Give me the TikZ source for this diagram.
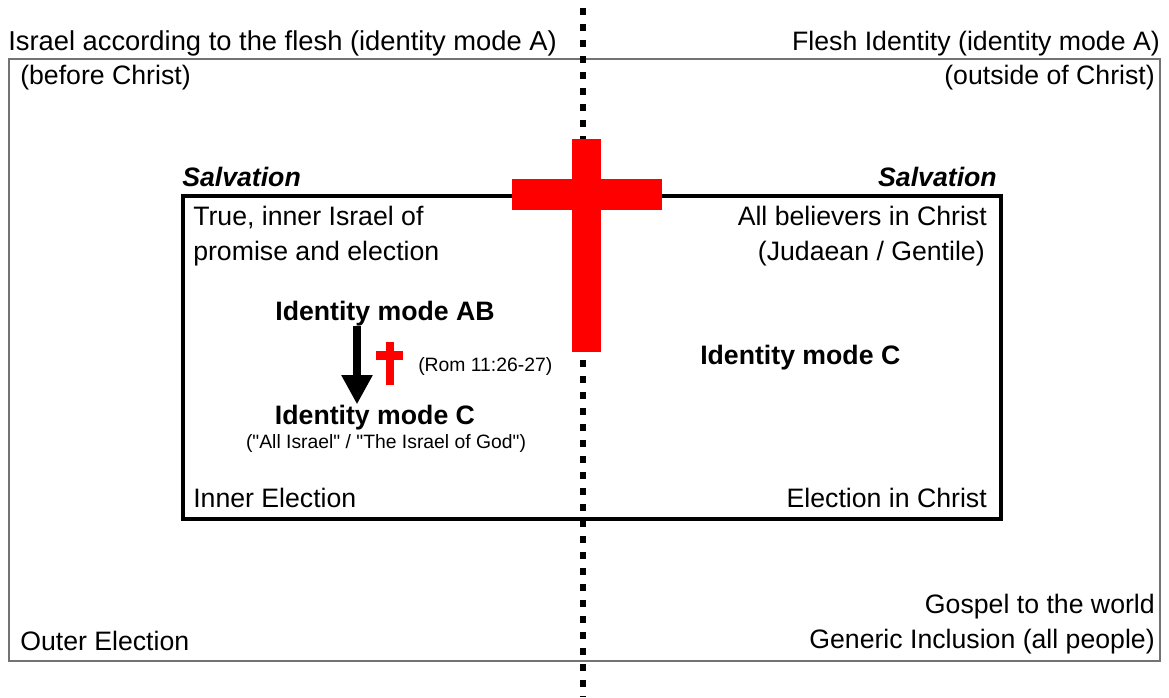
\documentclass[tikz,border=0pt]{standalone}
\usepackage{fontspec}
\setmainfont{Liberation Sans}
\usetikzlibrary{arrows.meta}
\definecolor{crossred}{RGB}{255,0,0}
\newcommand{\redcross}[2]{
  \fill[crossred] #1;
  \fill[crossred] #2;
}
\tikzset{
  lbl/.style={inner sep=0pt, font=\fontsize{20}{24}\selectfont},
  boldlbl/.style={lbl, font=\fontsize{20}{24}\selectfont\bfseries},
  smalllbl/.style={inner sep=0pt, font=\fontsize{14.5}{17}\selectfont},
  outerframe/.style={draw=black!55, line width=2.2pt},
  innerframe/.style={draw=black, line width=3pt},
  divider/.style={draw=black, line width=5pt, dash pattern=on 5.5pt off 6.5pt, dash phase=-6pt},
  bigarrow/.style={line width=6.5pt, -{Triangle[width=22pt,length=22pt]}}
}

\begin{document}
\begin{tikzpicture}[x=0.75pt,y=-0.75pt]
  \useasboundingbox (0,0) rectangle (1169,697);
  % frames
  \draw[outerframe] (9,59) rectangle (1160,661);
  \draw[innerframe] (183,196) rectangle (1001,519);
  \draw[divider] (583,0) -- (583,697);
  % the cross
  \redcross{(572,139) rectangle (601,352)}{(512,179) rectangle (662,210)}
  \redcross{(386,342) rectangle (394,385)}{(376,351) rectangle (403,360)}
  % outer labels
  \node[lbl, anchor=base west, font=\fontsize{20.5}{24}\selectfont] (israelA) at (8,50) {Israel according to the flesh (identity mode A)};
  \node[lbl, anchor=base west] (before) at (20,84) {(before Christ)};
  \node[lbl, anchor=base east] (fleshA) at (1160,50) {Flesh Identity (identity mode A)};
  \node[lbl, anchor=base east] (outside) at (1155,84) {(outside of Christ)};
  \node[lbl, anchor=base west] (outer) at (20,650) {Outer Election};
  \node[lbl, anchor=base east] (gospel) at (1155,613) {Gospel to the world};
  \node[lbl, anchor=base east] (generic) at (1155,648) {Generic Inclusion (all people)};
  % salvation box
  \node[boldlbl, anchor=base west, font=\fontsize{20}{24}\selectfont\bfseries\itshape] (salvL) at (182,186) {Salvation};
  \node[boldlbl, anchor=base east, font=\fontsize{20}{24}\selectfont\bfseries\itshape] (salvR) at (997,186) {Salvation};
  \node[lbl, anchor=base west] (trueA) at (193,225) {True, inner Israel of};
  \node[lbl, anchor=base west] (trueB) at (193,260) {promise and election};
  \node[lbl, anchor=base east] (allA) at (987,225) {All believers in Christ};
  \node[lbl, anchor=base east] (allB) at (985,260) {(Judaean / Gentile)};
  \node[boldlbl, anchor=base] (modeAB) at (385,320) {Identity mode AB};
  \node[boldlbl, anchor=base] (modeC) at (375,424) {Identity mode C};
  \node[smalllbl, anchor=base] (allisrael) at (386,448) {(\textquotedbl All Israel\textquotedbl{} / \textquotedbl The Israel of God\textquotedbl)};
  \node[smalllbl, anchor=west] (rom) at (418,366) {(Rom 11:26-27)};
  \node[boldlbl, anchor=base west] (modeCR) at (700,364) {Identity mode C};
  \node[lbl, anchor=base west] (innerel) at (193,507) {Inner Election};
  \node[lbl, anchor=base east] (elchrist) at (987,507) {Election in Christ};
  % connector
  \draw[bigarrow] (modeAB.south -| 357,0) -- (modeC.north -| 357,0);
\end{tikzpicture}
\end{document}
